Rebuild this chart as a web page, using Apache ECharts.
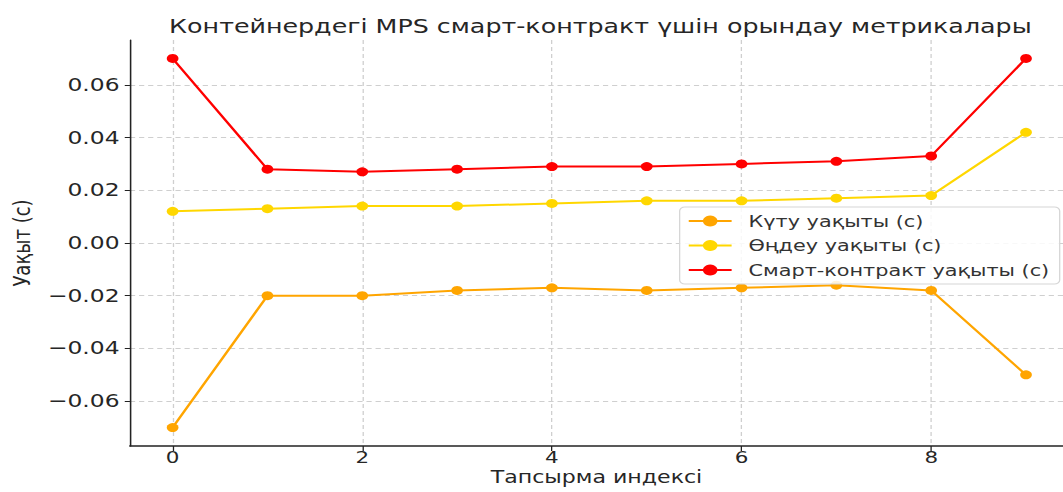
<!DOCTYPE html>
<html>
<head>
<meta charset="utf-8">
<script src="https://cdn.jsdelivr.net/npm/echarts@6/dist/echarts.min.js"></script>
<style>
html,body{margin:0;padding:0;background:#fff;}
#wrap{width:1063px;height:492px;overflow:hidden;position:relative;}
#chart{width:818px;height:492px;transform:scaleX(1.29951);transform-origin:0 0;}
</style>
</head>
<body>
<div id="wrap"><div id="chart"></div></div>
<script>
const taskIndex = [0, 1, 2, 3, 4, 5, 6, 7, 8, 9];
const waitTime = [-0.07, -0.02, -0.02, -0.018, -0.017, -0.018, -0.017, -0.016, -0.018, -0.05];
const procTime = [0.012, 0.013, 0.014, 0.014, 0.015, 0.016, 0.016, 0.017, 0.018, 0.042];
const contractTime = [0.07, 0.028, 0.027, 0.028, 0.029, 0.029, 0.030, 0.031, 0.033, 0.07];
const xTicks = [0, 2, 4, 6, 8];
const yTicks = [-0.06, -0.04, -0.02, 0.00, 0.02, 0.04, 0.06];
const seriesNames = ['Күту уақыты (с)', 'Өңдеу уақыты (с)', 'Смарт-контракт уақыты (с)'];
const seriesColors = ['#FFA500', '#FFD700', '#FF0000'];
const seriesValues = [waitTime, procTime, contractTime];

const FONT = 'DejaVu Sans';
const chart = echarts.init(document.getElementById('chart'), null, {renderer: 'svg'});

const series = seriesValues.map((vals, k) => ({
  name: seriesNames[k],
  type: 'line',
  data: taskIndex.map((x, i) => [x, vals[i]]),
  symbol: 'circle',
  symbolSize: 9,
  showAllSymbol: true,
  lineStyle: {color: seriesColors[k], width: 2},
  itemStyle: {color: seriesColors[k]},
  emphasis: {disabled: true},
  animation: false
}));

chart.setOption({
  animation: false,
  backgroundColor: '#fff',
  textStyle: {fontFamily: FONT},
  title: {
    text: 'Контейнердегі MPS смарт-контракт үшін орындау метрикалары',
    left: 457, top: 11, textAlign: 'center',
    textStyle: {fontFamily: FONT, fontSize: 19.5, fontWeight: 'normal', color: '#262626'}
  },
  legend: {
    orient: 'vertical',
    left: 523, top: 207,
    padding: [6, 8, 6, 6],
    itemWidth: 33, itemHeight: 14, itemGap: 8.5,
    backgroundColor: 'rgba(255,255,255,0.85)',
    borderColor: '#d6d6d6', borderWidth: 1, borderRadius: 4,
    textStyle: {fontFamily: FONT, fontSize: 16, color: '#333', padding: [0, 0, 0, 8]},
    data: seriesNames
  },
  grid: {left: 100, right: 0, top: 40, bottom: 46, containLabel: false, outerBoundsMode: 'none'},
  xAxis: {
    type: 'value',
    min: -0.45, max: 9.39,
    name: 'Тапсырма индексі',
    nameLocation: 'middle', nameGap: 22.5, nameMoveOverlap: false,
    nameTextStyle: {fontFamily: FONT, fontSize: 17, lineHeight: 17, color: '#262626'},
    axisLine: {show: true, onZero: false, lineStyle: {color: '#222', width: 1.5}},
    axisTick: {show: true, length: 5, customValues: xTicks, lineStyle: {color: '#222', width: 1}},
    axisLabel: {customValues: xTicks, margin: 3, fontFamily: FONT, fontSize: 16.5, lineHeight: 16, color: '#262626'},
    splitLine: {show: true, lineStyle: {color: '#cfcfcf', type: [4, 3], width: 1}}
  },
  yAxis: {
    type: 'value',
    min: -0.077, max: 0.077,
    name: 'Уақыт (с)',
    nameLocation: 'middle', nameGap: 70,
    nameTextStyle: {fontFamily: FONT, fontSize: 18, color: '#262626'},
    axisLine: {show: true, onZero: false, lineStyle: {color: '#222', width: 1.2}},
    axisTick: {show: true, length: 4, customValues: yTicks, lineStyle: {color: '#222', width: 1}},
    axisLabel: {
      customValues: yTicks, margin: 8, fontFamily: FONT, fontSize: 18, color: '#262626',
      formatter: v => (v < -1e-9 ? '\u2212' : '') + Math.abs(v).toFixed(2)
    },
    splitLine: {show: true, lineStyle: {color: '#cfcfcf', type: [4, 3], width: 1}}
  },
  series: series
});
</script>
</body>
</html>
